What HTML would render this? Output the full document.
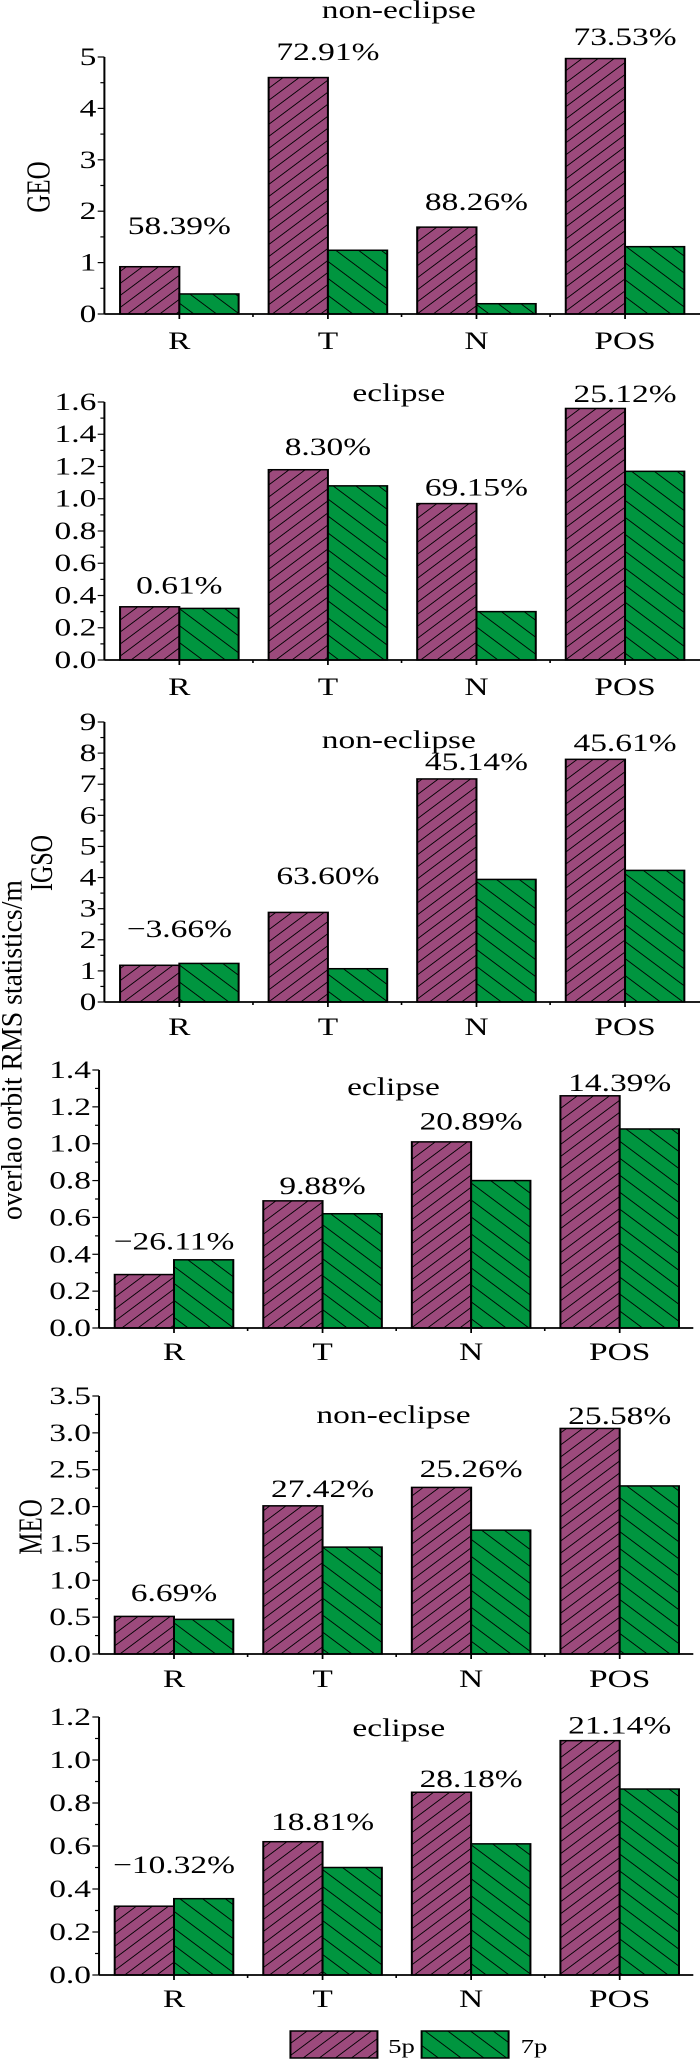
<!DOCTYPE html>
<html><head><meta charset="utf-8"><style>
html,body{margin:0;padding:0;background:#fff}
svg{display:block}
text{font-family:"Liberation Serif",serif;fill:#000}
</style></head><body>
<svg id="chart" width="700" height="2060" viewBox="0 0 523 2060" preserveAspectRatio="none" xmlns="http://www.w3.org/2000/svg">
<defs>
<pattern id="p5" patternUnits="userSpaceOnUse" width="8.5" height="8.5" patternTransform="rotate(45)">
<rect width="8.5" height="8.5" fill="#9c4a7c"/><line x1="0" y1="0" x2="0" y2="8.5" stroke="#000" stroke-width="1.6"/></pattern>
<pattern id="p7" patternUnits="userSpaceOnUse" width="12" height="12" patternTransform="rotate(-45)">
<rect width="12" height="12" fill="#00953f"/><line x1="0" y1="0" x2="0" y2="12" stroke="#000" stroke-width="1.6"/></pattern>
</defs>
<text transform="translate(16,1050) rotate(-90)" text-anchor="middle" font-size="22" textLength="340" lengthAdjust="spacingAndGlyphs">overlao orbit RMS statistics/m</text>
<text transform="translate(37,187) rotate(-90)" text-anchor="middle" font-size="25">GEO</text>
<text transform="translate(39,863) rotate(-90)" text-anchor="middle" font-size="24">IGSO</text>
<text transform="translate(31,1527) rotate(-90)" text-anchor="middle" font-size="25">MEO</text>
<g>
<rect x="217" y="2031" width="65" height="27" fill="url(#p5)" stroke="#000" stroke-width="1.5"/>
<text x="290" y="2053" font-size="20">5p</text>
<rect x="315" y="2031" width="65" height="27" fill="url(#p7)" stroke="#000" stroke-width="1.5"/>
<text x="389" y="2053" font-size="20">7p</text>
</g>
</svg>
<script>
const categories = ["R","T","N","POS"];
const titles = ["non-eclipse","eclipse","non-eclipse","eclipse","non-eclipse","eclipse"];
const values5p_geoNon = [0.92,4.6,1.69,4.97];
const values7p_geoNon = [0.39,1.24,0.2,1.31];
const values5p_geoEcl = [0.33,1.18,0.97,1.56];
const values7p_geoEcl = [0.32,1.08,0.30,1.17];
const values5p_igsoNon = [1.18,2.88,7.17,7.8];
const values7p_igsoNon = [1.24,1.07,3.94,4.23];
const values5p_igsoEcl = [0.29,0.69,1.01,1.26];
const values7p_igsoEcl = [0.37,0.62,0.80,1.08];
const values5p_meoNon = [0.51,2.01,2.26,3.06];
const values7p_meoNon = [0.47,1.45,1.68,2.28];
const values5p_meoEcl = [0.32,0.62,0.85,1.09];
const values7p_meoEcl = [0.355,0.50,0.61,0.865];
const pctLabels = [
 ["58.39%","72.91%","88.26%","73.53%"],
 ["0.61%","8.30%","69.15%","25.12%"],
 ["\u22123.66%","63.60%","45.14%","45.61%"],
 ["\u221226.11%","9.88%","20.89%","14.39%"],
 ["6.69%","27.42%","25.26%","25.58%"],
 ["\u221210.32%","18.81%","28.18%","21.14%"]];
const pctLabelValues = [
 [1.46,4.84,1.93,5.14],[0.38,1.24,0.99,1.57],[1.93,3.63,7.30,7.91],
 [0.40,0.70,1.05,1.26],[0.65,2.06,2.33,3.05],[0.45,0.65,0.85,1.10]];
const yMaxes = [5,1.6,9,1.4,3.5,1.2];
const yMajorSteps = [1,0.2,1,0.2,0.5,0.2];
const yMinorSteps = [0.5,0.1,0.5,0.1,0.25,0.1];
const yDecimals = [0,1,0,1,1,1];
const series5p = [values5p_geoNon,values5p_geoEcl,values5p_igsoNon,values5p_igsoEcl,values5p_meoNon,values5p_meoEcl];
const series7p = [values7p_geoNon,values7p_geoEcl,values7p_igsoNon,values7p_igsoEcl,values7p_meoNon,values7p_meoEcl];

const layout = [
 {ax:78,y0:314,yTop:57,xEnd:523,tx:298,ty:18,xl:349},
 {ax:78,y0:660,yTop:402,xEnd:523,tx:298,ty:401,xl:695},
 {ax:78,y0:1002,yTop:722,xEnd:523,tx:298,ty:748,xl:1035},
 {ax:74,y0:1328,yTop:1070,xEnd:518,tx:294,ty:1095,xl:1360},
 {ax:74,y0:1654,yTop:1396,xEnd:518,tx:294,ty:1423,xl:1687},
 {ax:74,y0:1975,yTop:1717,xEnd:518,tx:298,ty:1736,xl:2007}];
const svg = document.getElementById('chart');
const NS = 'http://www.w3.org/2000/svg';
function mk(tag, attrs, parent){const e=document.createElementNS(NS,tag);for(const k in attrs)e.setAttribute(k,attrs[k]);(parent||svg).appendChild(e);return e;}
const BAND=111, HALF=44.3;

for(let p=0;p<6;p++){
 const L=layout[p];
 const yScale=v=>L.y0-(v/yMaxes[p])*(L.y0-L.yTop);
 const xCenter=i=>L.ax+56+i*BAND;
 const g=mk('g',{});
 
 
 const t=mk('text',{x:L.tx,y:L.ty,'text-anchor':'middle','font-size':25},g);
 t.textContent=titles[p];
 
 
 for(let i=0;i<categories.length;i++){
  const v5=series5p[p][i], v7=series7p[p][i], c=xCenter(i);
  const b5=mk('rect',{x:c-HALF,y:yScale(v5),width:HALF,height:L.y0-yScale(v5),fill:'url(#p5)',stroke:'#000','stroke-width':1.5},g);
  
  
  const b7=mk('rect',{x:c,y:yScale(v7),width:HALF,height:L.y0-yScale(v7),fill:'url(#p7)',stroke:'#000','stroke-width':1.5},g);
  
  
  const pl=mk('text',{x:c,y:yScale(pctLabelValues[p][i])-5,'text-anchor':'middle','font-size':25},g);
  pl.textContent=pctLabels[p][i];
  
  
  const xl=mk('text',{x:c,y:L.xl,'text-anchor':'middle','font-size':25},g);
  xl.textContent=categories[i];
  
  
  mk('line',{x1:c,x2:c,y1:L.y0,y2:L.y0+5,stroke:'#000','stroke-width':1.3},g);
  const s=L.ax+(i+1)*BAND;
  if(s<L.xEnd-2) mk('line',{x1:s,x2:s,y1:L.y0,y2:L.y0+3,stroke:'#000','stroke-width':1.2},g);
 }
 const nMinor=Math.round(yMaxes[p]/yMinorSteps[p]);
 for(let k=0;k<=nMinor;k++){
  const v=k*yMinorSteps[p], y=yScale(v);
  const isMajor=Math.abs(v/yMajorSteps[p]-Math.round(v/yMajorSteps[p]))<1e-6;
  mk('line',{x1:L.ax-(isMajor?5:3),x2:L.ax,y1:y,y2:y,stroke:'#000','stroke-width':1.2},g);
  if(isMajor){
   const tl=mk('text',{x:L.ax-6,y:y+8,'text-anchor':'end','font-size':25},g);
   tl.textContent=v.toFixed(yDecimals[p]);
   
   
  }
 }
 const ya=mk('line',{x1:L.ax,x2:L.ax,y1:L.yTop,y2:L.y0,stroke:'#000','stroke-width':1.5},g);
 
 
 const xa=mk('line',{x1:L.ax,x2:L.xEnd,y1:L.y0,y2:L.y0,stroke:'#000','stroke-width':1.8},g);
 
 
}
</script>
</body></html>
